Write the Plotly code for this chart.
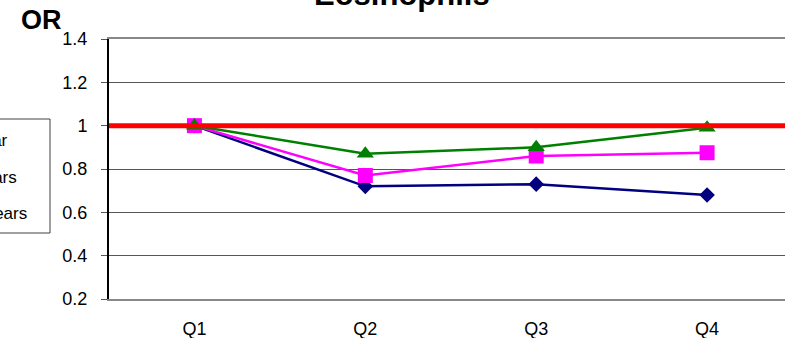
import plotly.graph_objects as go

# Odds ratios by quartile of eosinophil count
quartiles = ["Q1", "Q2", "Q3", "Q4"]
or_1_year = [1.0, 0.72, 0.73, 0.68]
or_5_years = [1.0, 0.77, 0.86, 0.875]
or_10_years = [1.0, 0.87, 0.90, 0.99]
series_names = ["1 year", "5 years", "10 years"]
y_ticks = [0.2, 0.4, 0.6, 0.8, 1.0, 1.2, 1.4]
y_tick_text = ["0.2", "0.4", "0.6", "0.8", "1", "1.2", "1.4"]
reference_or = 1.0

FONT = "Liberation Sans, Arial, sans-serif"

fig = go.Figure()

fig.add_trace(go.Scatter(
    x=quartiles, y=or_1_year, name=series_names[0], mode="lines+markers",
    line=dict(color="#000080", width=2.5),
    marker=dict(symbol="diamond", size=12, color="#000080"),
))
fig.add_trace(go.Scatter(
    x=quartiles, y=or_5_years, name=series_names[1], mode="lines+markers",
    line=dict(color="#FF00FF", width=2.5),
    marker=dict(symbol="square", size=15, color="#FF00FF"),
))
fig.add_trace(go.Scatter(
    x=quartiles, y=or_10_years, name=series_names[2], mode="lines+markers",
    line=dict(color="#008000", width=2.5),
    marker=dict(symbol="triangle-up", size=15, color="#008000"),
))

# Reference line at OR = 1, drawn over the series
fig.add_shape(type="line", xref="paper", yref="y", x0=0, x1=1,
              y0=reference_or, y1=reference_or,
              line=dict(color="#FF0000", width=5), layer="above")

# Legend box, partly off the left edge of the page
fig.add_shape(type="rect", xref="paper", yref="paper",
              x0=-0.5, x1=-59 / 676, y0=(299 - 233) / 260, y1=(299 - 119) / 260,
              line=dict(color="#404040", width=1), fillcolor="white", layer="above")
legend_right = [10, 19, 29]
legend_y = [140, 177, 213]
for name, xr, yc in zip(series_names, legend_right, legend_y):
    fig.add_annotation(text=name, xref="paper", yref="paper",
                       x=(xr - 109) / 676, y=(299 - yc) / 260,
                       xanchor="right", yanchor="middle", showarrow=False,
                       font=dict(family=FONT, size=17, color="black"))

# Chart title and axis caption
fig.add_annotation(text="<b>Eosinophils</b>", xref="paper", yref="paper",
                   x=(402 - 109) / 676, y=(299 - 14) / 260,
                   xanchor="center", yanchor="bottom", showarrow=False,
                   font=dict(family=FONT, size=31, color="black"))
fig.add_annotation(text="<b>OR</b>", xref="paper", yref="paper",
                   x=(41 - 109) / 676, y=(299 - 20) / 260,
                   xanchor="center", yanchor="middle", showarrow=False,
                   font=dict(family=FONT, size=27, color="black"))

fig.update_layout(
    width=785, height=338,
    margin=dict(l=109, r=0, t=39, b=39, pad=0, autoexpand=False),
    paper_bgcolor="white", plot_bgcolor="white",
    showlegend=False,
    font=dict(family=FONT, size=18, color="black"),
    xaxis=dict(
        type="category", range=[-0.5, 3.456],
        showline=True, linecolor="#888888", linewidth=2, mirror=True,
        showgrid=False, ticks="", zeroline=False,
        ticklabelstandoff=12,
        tickfont=dict(family=FONT, size=18, color="black"),
    ),
    yaxis=dict(
        range=[0.2, 1.4], tickvals=y_ticks, ticktext=y_tick_text,
        showline=True, linecolor="black", linewidth=2,
        showgrid=True, gridcolor="#555555", gridwidth=1,
        ticks="outside", ticklen=6, tickcolor="#555555", tickwidth=1,
        ticklabelstandoff=10, zeroline=False,
        tickfont=dict(family=FONT, size=18, color="black"),
    ),
)

fig.write_html("out.html")
